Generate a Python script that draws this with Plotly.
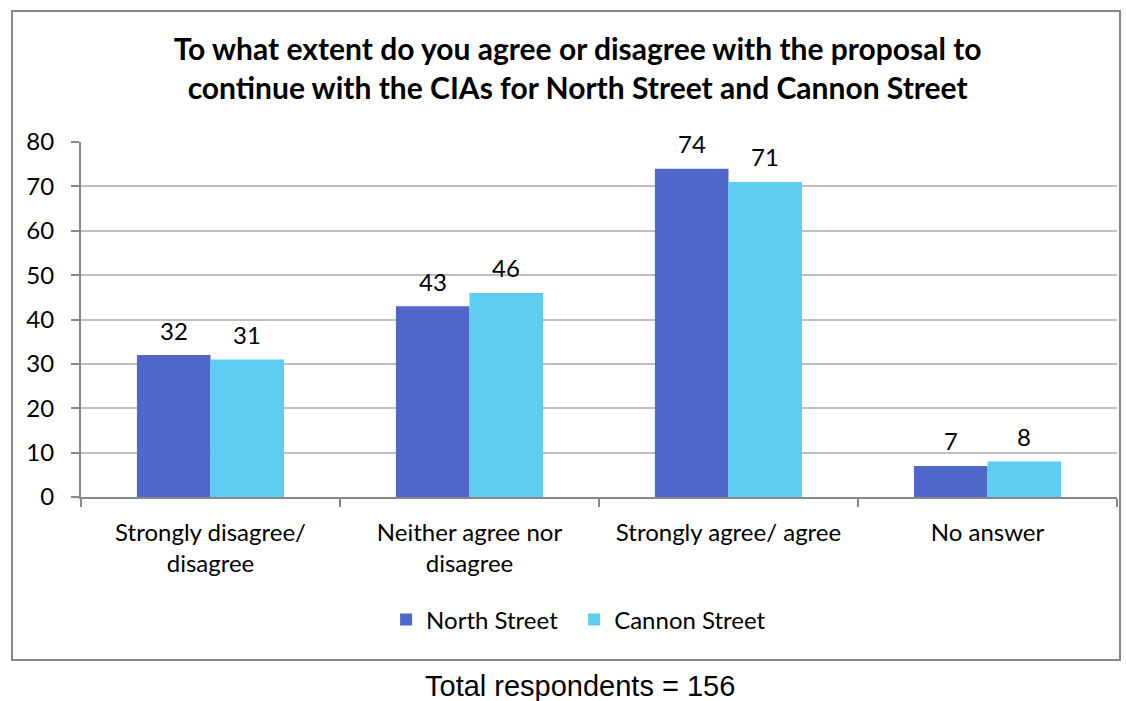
import plotly.graph_objects as go

categories = ["Strongly disagree/<br>disagree", "Neither agree nor<br>disagree", "Strongly agree/ agree", "No answer"]
north_street = [32, 43, 74, 7]
cannon_street = [31, 46, 71, 8]
series_names = ["North Street", "Cannon Street"]
y_ticks = [0, 10, 20, 30, 40, 50, 60, 70, 80]
title_text = "To what extent do you agree or disagree with the proposal to<br>continue with the CIAs for North Street and Cannon Street"
footnote = "Total respondents = 156"

colors = ["#4F67C8", "#5ECDF2"]
FONT = "Lato, Carlito, Calibri, sans-serif"
FS = 24

fig = go.Figure()
for name, vals, col, lg in zip(series_names, [north_street, cannon_street], colors, ["legend", "legend2"]):
    fig.add_trace(go.Bar(name=name, x=categories, y=vals, legend=lg, showlegend=True,
                         marker=dict(color=col, line=dict(width=0))))

# data labels
bar_half = 36.75
for vals, shift in [(north_street, -bar_half), (cannon_street, bar_half)]:
    for c, v in zip(categories, vals):
        fig.add_annotation(x=c, y=v, xref="x", yref="y", text=str(v), showarrow=False,
                           xshift=shift, yshift=25, yanchor="middle",
                           font=dict(family=FONT, size=FS, color="#000000"))

# footnote
fig.add_annotation(x=0.482, y=-0.532, xref="paper", yref="paper", text=footnote, showarrow=False,
                   xanchor="center", yanchor="middle",
                   font=dict(family="Liberation Sans, Arial, sans-serif", size=29, color="#000000"))

# outer border
fig.add_shape(type="rect", xref="paper", yref="paper", x0=-0.0666, x1=1.0029, y0=-0.459, y1=1.369,
              line=dict(color="#878787", width=2), fillcolor="rgba(0,0,0,0)", layer="below")

legend_common = dict(orientation="h", y=-0.346, yanchor="middle", xanchor="left",
                     font=dict(family=FONT, size=FS, color="#000000"), itemwidth=30,
                     bgcolor="rgba(0,0,0,0)", visible=True)

fig.update_layout(
    width=1126, height=701,
    margin=dict(l=81, r=9, t=142, b=204),
    paper_bgcolor="white", plot_bgcolor="white",
    showlegend=True,
    barmode="group", bargap=0.432, bargroupgap=0,
    title=dict(text="<b>" + title_text + "</b>", x=0.513, xanchor="center", y=0.914, yanchor="middle",
               font=dict(family=FONT, size=30, color="#000000")),
    legend=dict(x=0.2945, **legend_common),
    legend2=dict(x=0.4760, **legend_common),
    font=dict(family=FONT, size=FS, color="#000000"),
)
fig.update_xaxes(showline=True, linecolor="#888888", linewidth=2, ticks="outside", tickson="boundaries",
                 ticklen=8, tickcolor="#888888", tickwidth=2, showgrid=False,
                 tickfont=dict(family=FONT, size=FS, color="#000000"), ticklabelstandoff=13)
fig.update_yaxes(range=[0, 80], tickvals=y_ticks, showline=True, linecolor="#888888", linewidth=2,
                 ticks="outside", ticklen=8, tickcolor="#888888", tickwidth=2,
                 showgrid=True, gridcolor="#C0C0C0", gridwidth=1.5, zeroline=False,
                 tickfont=dict(family=FONT, size=FS, color="#000000"), ticklabelstandoff=12)

fig.write_html("out.html", config={"displayModeBar": False},
               post_script="document.body.style.margin='0';document.body.style.padding='0';")
